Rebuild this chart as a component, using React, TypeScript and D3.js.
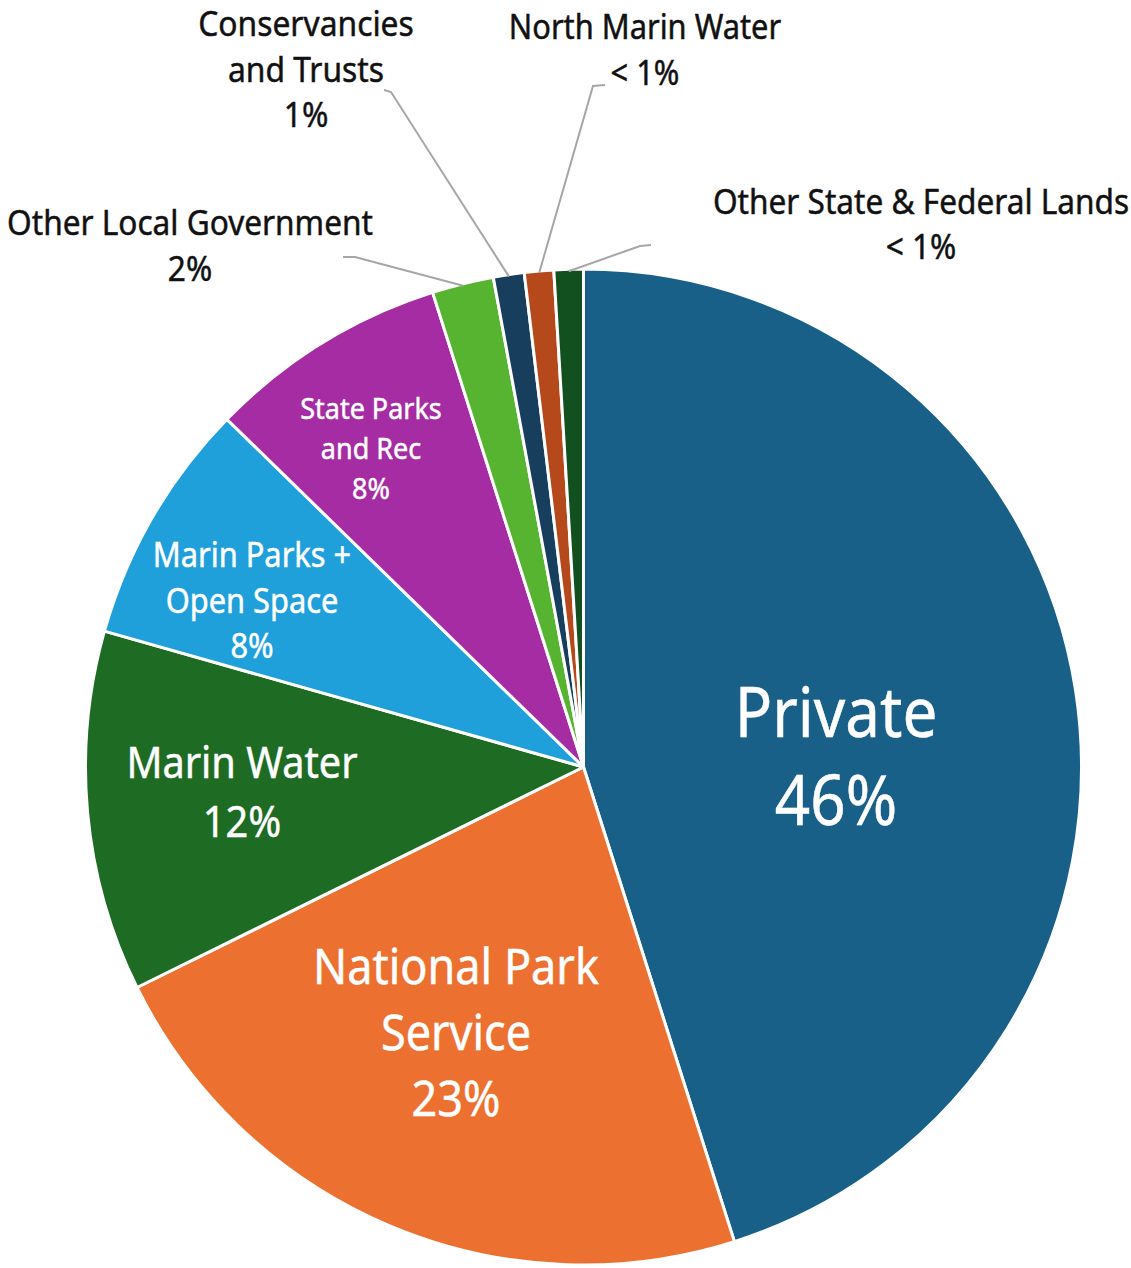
import React from 'react';
import * as d3 from 'd3';

// ---- Data ----
const categories = [
  'Private',
  'National Park Service',
  'Marin Water',
  'Marin Parks + Open Space',
  'State Parks and Rec',
  'Other Local Government',
  'Conservancies and Trusts',
  'North Marin Water',
  'Other State & Federal Lands',
];
const shares = [45.1, 22.6, 11.7, 7.9, 7.8, 2.0, 1.0, 0.95, 0.95];
const shareLabels = ['46%', '23%', '12%', '8%', '8%', '2%', '1%', '< 1%', '< 1%'];
const nameLines = [
  ['Private'],
  ['National Park', 'Service'],
  ['Marin Water'],
  ['Marin Parks +', 'Open Space'],
  ['State Parks', 'and Rec'],
  ['Other Local Government'],
  ['Conservancies', 'and Trusts'],
  ['North Marin Water'],
  ['Other State & Federal Lands'],
];
const colors = [
  '#196089',
  '#ec7131',
  '#1e6b23',
  '#1fa0da',
  '#a52ca2',
  '#56b431',
  '#173e5c',
  '#b5491b',
  '#12511f',
];

// ---- Layout (label placement) ----
const W = 1131;
const H = 1268;
const CX = 583.5;
const CY = 767;
const R = 498;
const SQUEEZE = 0.9;

type Lay = {
  x: number;
  y: number;
  size: number;
  lh: number;
  inside: boolean;
  stub?: [number, number, number, number];
};
const layout: Lay[] = [
  { x: 836, y: 756, size: 62, lh: 88, inside: true },
  { x: 456, y: 1032, size: 45, lh: 66, inside: true },
  { x: 242, y: 791.5, size: 39.7, lh: 59, inside: true },
  { x: 252, y: 600.5, size: 30.8, lh: 45.5, inside: true },
  { x: 371, y: 448, size: 27, lh: 40, inside: true },
  { x: 190, y: 245, size: 31.6, lh: 46, inside: false, stub: [343, 257, 355, 257] },
  { x: 306, y: 69, size: 31.8, lh: 45.5, inside: false, stub: [384, 90, 391, 92] },
  { x: 645, y: 50, size: 30.8, lh: 46, inside: false, stub: [605, 85, 593, 86] },
  { x: 921, y: 223.5, size: 31.6, lh: 45, inside: false, stub: [651, 245, 640, 246] },
];

export default function App() {
  const pie = d3
    .pie<number>()
    .sort(null)
    .value((d) => d)
    .startAngle(0)
    .endAngle(2 * Math.PI);
  const arcs = pie(shares);
  const arc = d3.arc<d3.PieArcDatum<number>>().innerRadius(0).outerRadius(R);
  const edgeArc = d3
    .arc<d3.PieArcDatum<number>>()
    .innerRadius(R - 2)
    .outerRadius(R - 2);

  return (
    <svg
      width={W}
      height={H}
      viewBox={`0 0 ${W} ${H}`}
      style={{ position: 'absolute', left: 0, top: 0, background: '#ffffff' }}
      fontFamily="'Noto Sans', 'Open Sans', sans-serif"
    >
      <g transform={`translate(${CX},${CY})`}>
        {arcs.map((a, i) => (
          <path
            key={categories[i]}
            d={arc(a) || ''}
            fill={colors[i]}
            stroke="#ffffff"
            strokeWidth={3}
            strokeLinejoin="round"
          />
        ))}
      </g>
      {arcs.map((a, i) => {
        const L = layout[i];
        if (!L.stub) return null;
        const [ex, ey] = edgeArc.centroid(a);
        const [x0, y0, x1, y1] = L.stub;
        return (
          <polyline
            key={'ll' + i}
            points={`${x0},${y0} ${x1},${y1} ${CX + ex},${CY + ey}`}
            fill="none"
            stroke="#a6a6a6"
            strokeWidth={2}
          />
        );
      })}
      {arcs.map((a, i) => {
        const L = layout[i];
        const lines = [...nameLines[i], shareLabels[i]];
        const fs = L.size / SQUEEZE;
        const n = lines.length;
        const col = L.inside ? '#ffffff' : '#111111';
        return (
          <g key={'lb' + i} transform={`translate(${L.x},${L.y}) scale(${SQUEEZE},1)`}>
            {lines.map((t, j) => (
              <text
                key={j}
                x={0}
                y={(j - (n - 1) / 2) * L.lh + fs * 0.357}
                textAnchor="middle"
                fontSize={fs}
                fill={col}
                stroke={col}
                strokeWidth={0.5}
              >
                {t}
              </text>
            ))}
          </g>
        );
      })}
    </svg>
  );
}
